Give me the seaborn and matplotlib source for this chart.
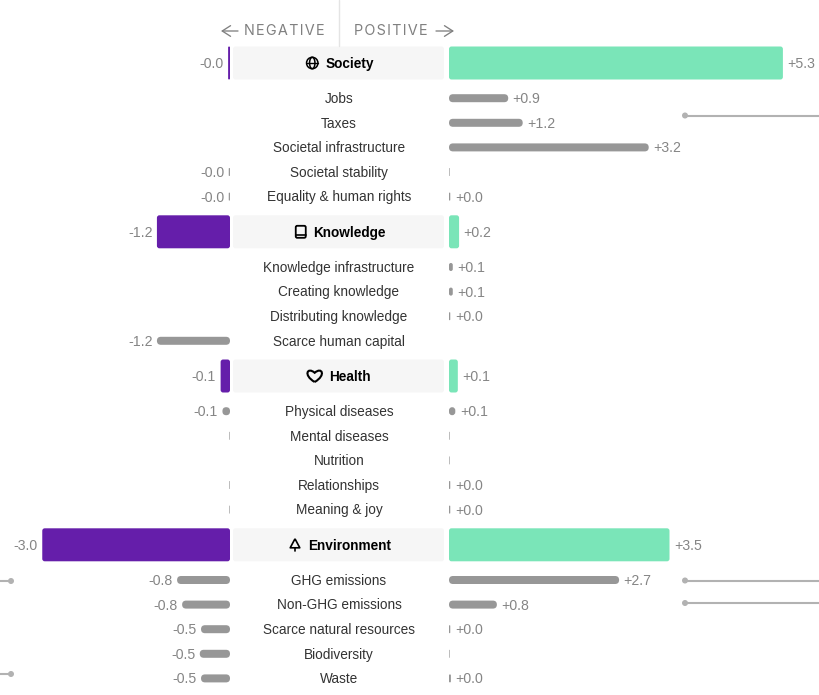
import matplotlib
matplotlib.use("Agg")
import matplotlib.pyplot as plt
import numpy as np
import pandas as pd
import seaborn as sns
from matplotlib.patches import Circle, Ellipse, FancyBboxPatch, PathPatch
from matplotlib.path import Path

sns.set_theme(style="white")
plt.rcParams["font.family"] = ["Liberation Sans", "DejaVu Sans"]

# Rows from top to bottom; headers are the four summary categories
labels = [
    "Society", "Jobs", "Taxes", "Societal infrastructure", "Societal stability",
    "Equality & human rights",
    "Knowledge", "Knowledge infrastructure", "Creating knowledge",
    "Distributing knowledge", "Scarce human capital",
    "Health", "Physical diseases", "Mental diseases", "Nutrition",
    "Relationships", "Meaning & joy",
    "Environment", "GHG emissions", "Non-GHG emissions",
    "Scarce natural resources", "Biodiversity", "Waste",
]
headers = ["Society", "Knowledge", "Health", "Environment"]
nan = float("nan")
negative = [
    -0.03, nan, nan, nan, -0.02, -0.02,
    -1.16, nan, nan, nan, -1.16,
    -0.149, -0.12, -0.01, nan, -0.01, -0.01,
    -2.98, -0.84, -0.76, -0.46, -0.48, -0.46,
]
positive = [
    5.3, 0.94, 1.17, 3.17, 0.01, 0.02,
    0.16, 0.06, 0.06, 0.02, nan,
    0.14, 0.1, 0.01, 0.01, 0.02, 0.02,
    3.5, 2.7, 0.76, 0.02, 0.01, 0.03,
]
# Slivers that carry no printed value
unlabelled_negative = ["Mental diseases", "Relationships", "Meaning & joy"]
unlabelled_positive = ["Societal stability", "Mental diseases", "Nutrition", "Biodiversity"]

PURPLE, GREEN, GREY = "#651eaa", "#7ae5b8", "#979797"
W, H = 819, 695
ROW, HEADER_STEP, FIRST_ROW = 24.6, 35.2, 63.0
UNIT = 63.0
BAR_SUB, BAR_HEAD = 8.0, 33.0

# Row positions in sub-row units, with a wider step around each header
steps = [0.0]
for prev, cur in zip(labels[:-1], labels[1:]):
    steps.append(HEADER_STEP / ROW if prev in headers or cur in headers else 1.0)
rows = np.cumsum(steps)
df = pd.DataFrame({"label": labels, "row": rows, "neg": negative, "pos": positive})
df["head"] = df["label"].isin(headers)
df["band"] = 1.0

fig = plt.figure(figsize=(W / 100, H / 100), dpi=100)
fig.patch.set_facecolor("white")


def panel(x0, x1, xlim):
    ax = fig.add_axes([x0 / W, 0, (x1 - x0) / W, 1])
    ax._xlim_wanted = xlim
    return ax


ax_neg = panel(0, 230, (-230 / UNIT, 0))
ax_mid = panel(233, 444, (0, 1))
ax_pos = panel(449, W, (0, (W - 449) / UNIT))
ylim = ((H - FIRST_ROW) / ROW, -FIRST_ROW / ROW)


def draw_rows(ax, column, head_color):
    """Two barplots on one axis: tall header bars and thin sub-row bars."""
    head = df[df["head"]]
    sub = df[~df["head"]]
    head_step = np.diff(head["row"]).min()
    before = len(ax.patches)
    sns.barplot(data=head, x=column, y="row", orient="y", native_scale=True,
                color=head_color, saturation=1, width=BAR_HEAD / ROW / head_step, ax=ax)
    n_head = len(ax.patches) - before
    if head_color != "#f6f6f6":
        sns.barplot(data=sub, x=column, y="row", orient="y", native_scale=True,
                    color=GREY, saturation=1, width=BAR_SUB / ROW, ax=ax)
    ax.set_xlim(*ax._xlim_wanted)
    ax.set_ylim(*ylim)
    ax.axis("off")
    return n_head


def round_bars(ax, n_head):
    """Swap each bar for a rounded box spanning the same data extent."""
    x0, x1 = ax.get_xlim()
    sx = ax.bbox.width / abs(x1 - x0)
    sy = ax.bbox.height / abs(ylim[1] - ylim[0])
    for i, bar in enumerate(list(ax.patches)):
        w, h = bar.get_width(), bar.get_height()
        if not np.isfinite(w) or w == 0:
            bar.set_visible(False)
            continue
        left = min(bar.get_x(), bar.get_x() + w)
        radius = 2.5 if i < n_head else 4.0
        radius = min(radius, abs(w) * sx / 2, abs(h) * sy / 2)
        box = FancyBboxPatch(
            (left, bar.get_y()), abs(w), h,
            boxstyle=f"round,pad=0,rounding_size={radius / sx}",
            mutation_aspect=sx / sy,
            facecolor=bar.get_facecolor(), edgecolor="none", zorder=2,
        )
        bar.set_visible(False)
        ax.add_patch(box)


for axis, col, colour in [(ax_neg, "neg", PURPLE), (ax_pos, "pos", GREEN), (ax_mid, "band", "#f6f6f6")]:
    round_bars(axis, draw_rows(axis, col, colour))

TEXT_PT = 9.85
VALUE_PT = 10.2
VALUE = "#858585"
for _, r in df.iterrows():
    if not np.isnan(r["neg"]) and r["label"] not in unlabelled_negative:
        ax_neg.annotate(f"{r['neg']:+.1f}", (r["neg"], r["row"]), xytext=(-4.5, 0.5),
                        textcoords="offset pixels", ha="right", va="center_baseline",
                        fontsize=VALUE_PT, color=VALUE, annotation_clip=False)
    if not np.isnan(r["pos"]) and r["label"] not in unlabelled_positive:
        ax_pos.annotate(f"{r['pos']:+.1f}", (r["pos"], r["row"]), xytext=(4.5, 0.5),
                        textcoords="offset pixels", ha="left", va="center_baseline",
                        fontsize=VALUE_PT, color=VALUE, annotation_clip=False)

# Overlay in figure pixels for the arrows, divider, icons and leader lines
deco = fig.add_axes([0, 0, 1, 1])
deco.set_xlim(0, W)
deco.set_ylim(H, 0)
deco.axis("off")
deco.set_zorder(5)

deco.plot([339, 339], [0, 46], color="#e4e4e4", lw=1)
deco.text(284.5, 31, "N\u200aE\u200aG\u200aA\u200aT\u200aI\u200aV\u200aE", ha="center", va="center",
          fontsize=10.4, color="#808080", family=["Inter", "DejaVu Sans"])
deco.text(390.5, 31, "P\u200aO\u200aS\u200aI\u200aT\u200aI\u200aV\u200aE", ha="center", va="center",
          fontsize=10.4, color="#808080", family=["Inter", "DejaVu Sans"])
arrow = dict(arrowstyle="->,head_length=0.5,head_width=0.32", color="#808080", lw=0.95,
             shrinkA=0, shrinkB=0)
deco.annotate("", xy=(221, 31), xytext=(238, 31), arrowprops=arrow)
deco.annotate("", xy=(454, 31), xytext=(436, 31), arrowprops=arrow)

# Leader lines running off the edges of the figure
LINE = "#b2b2b2"
for x0, x1, y, dot in [(685, W, 115.5, 685), (685, W, 580.5, 685), (685, W, 603, 685),
                       (0, 11, 581, 11), (0, 11, 674, 11)]:
    deco.plot([x0, x1], [y, y], color=LINE, lw=1.5, solid_capstyle="butt")
    deco.add_patch(Circle((dot, y), 3.0, facecolor=LINE, edgecolor="none"))


def icon_globe(cx, cy):
    kw = dict(fill=False, edgecolor="black", lw=1.1)
    deco.add_patch(Circle((cx, cy), 5.7, **kw))
    deco.add_patch(Ellipse((cx, cy), 5.4, 11.4, **kw))
    deco.plot([cx - 5.7, cx + 5.7], [cy, cy], color="black", lw=1.0)


def icon_book(cx, cy):
    deco.add_patch(FancyBboxPatch((cx - 5, cy - 6), 10, 12,
                                  boxstyle="round,pad=0,rounding_size=1.5",
                                  fill=False, edgecolor="black", lw=1.3))
    deco.plot([cx - 5, cx + 5], [cy + 3.2, cy + 3.2], color="black", lw=1.2)


def icon_heart(cx, cy):
    verts = [(cx, cy + 6), (cx - 12, cy - 1), (cx - 7, cy - 9.5), (cx, cy - 3.2),
             (cx + 7, cy - 9.5), (cx + 12, cy - 1), (cx, cy + 6)]
    codes = [Path.MOVETO, Path.CURVE4, Path.CURVE4, Path.CURVE4, Path.CURVE4, Path.CURVE4, Path.CURVE4]
    deco.add_patch(PathPatch(Path(verts, codes), fill=False, edgecolor="black", lw=1.5))


def icon_tree(cx, cy):
    verts = [(cx, cy - 6), (cx + 4.8, cy + 3), (cx - 4.8, cy + 3), (cx, cy - 6)]
    deco.add_patch(PathPatch(Path(verts), fill=False, edgecolor="black", lw=1.2, joinstyle="round"))
    deco.plot([cx, cx], [cy + 3, cy + 6.5], color="black", lw=1.2)


icons = {"Society": icon_globe, "Knowledge": icon_book, "Health": icon_heart, "Environment": icon_tree}
icon_gap = {"Society": 13, "Knowledge": 12.5, "Health": 14, "Environment": 13}

# Row titles, centred on the middle panel; header titles sit right of their icon
fig.canvas.draw()
renderer = fig.canvas.get_renderer()
for _, r in df.iterrows():
    cy = FIRST_ROW + r["row"] * ROW
    if r["head"]:
        t = deco.text(349.5, cy - 0.5, r["label"], ha="center", va="center_baseline",
                      fontsize=9.8, fontweight="bold", color="black")
        left = t.get_window_extent(renderer).x0
        icons[r["label"]](left - icon_gap[r["label"]], cy)
    else:
        deco.text(339, cy - 0.7, r["label"], ha="center", va="center_baseline",
                  fontsize=TEXT_PT, color="#333333")

fig.savefig("out.png", dpi=100, facecolor="white")
